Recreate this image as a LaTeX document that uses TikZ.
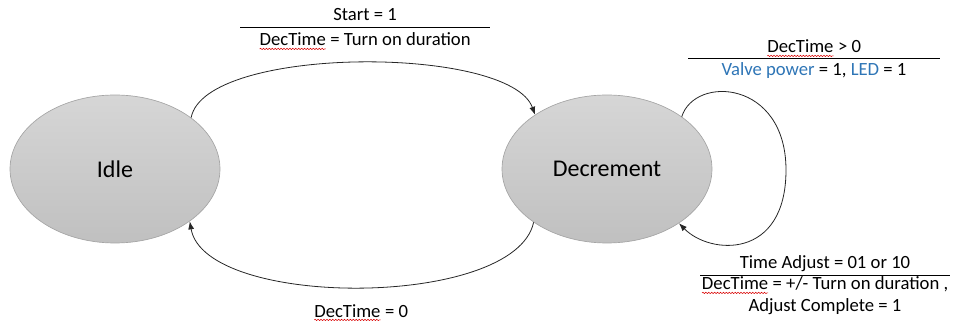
\documentclass[tikz,border=0pt]{standalone}
\usepackage{fontspec}
\setmainfont{Carlito}
\usetikzlibrary{arrows.meta,shapes.geometric,decorations.pathmorphing}

\definecolor{wordblue}{RGB}{46,117,182}
\definecolor{stateedge}{RGB}{165,165,165}

% red spell-check wave under a word
\newcommand\sq[1]{\tikz[baseline=(w.base)]{\node[anchor=base,inner sep=0pt,outer sep=0pt] (w) at (0,0) {#1};
  \draw[red!85!black, line width=0.4pt, decorate, decoration={snake,amplitude=0.5pt,segment length=2.2pt}]
    ([yshift=-2.2pt]w.base west) -- ([yshift=-2.2pt]w.base east);}}

\tikzset{
  state/.style={ellipse, draw=stateedge, line width=0.5pt,
    top color={rgb,255:red,214;green,214;blue,214},
    bottom color={rgb,255:red,192;green,192;blue,192},
    minimum width=157.5pt, minimum height=111pt, inner sep=0pt,
    font=\fontsize{18}{20}\selectfont},
  trans/.style={-{Latex[length=6pt,width=4.5pt]}, line width=0.6pt, black!85},
  lbl/.style={anchor=base, inner sep=0pt, font=\fontsize{14}{16}\selectfont}
}

\begin{document}
\begin{tikzpicture}[x=0.75pt,y=-0.75pt]
\useasboundingbox (0,0) rectangle (954,324);

% States
\node[state] (idle) at (115,169) {Idle};
\node[state] (dec) at (607,169) {Decrement};

% Transitions
\draw[trans] (idle.34) .. controls (205,45) and (510,45) .. (dec.143);
\draw[trans] (dec.216) .. controls (515,309) and (205,309) .. (idle.325);
\draw[trans] (dec.35) .. controls (695,75) and (786,80) .. (786,170)
  .. controls (786,260) and (710,255) .. (dec.323);

% Idle -> Decrement
\node[lbl] (startin) at (365,21) {Start = 1};
\draw[line width=0.6pt] (240,27) -- (490,27);
\node[lbl] (startout) at (365,46) {\sq{DecTime} = Turn on duration};

% Decrement -> Decrement (count down)
\node[lbl] (runin) at (814,53) {\sq{DecTime} > 0};
\draw[line width=0.6pt] (688,58) -- (940,58);
\node[lbl] (runout) at (814,76) {\textcolor{wordblue}{Valve power} = 1, \textcolor{wordblue}{LED} = 1};

% Decrement -> Decrement (adjust)
\node[lbl] (adjin) at (825,268) {Time Adjust = 01 or 10};
\draw[line width=0.6pt] (700,275) -- (950,275);
\node[lbl] (adjout) at (825,290) {\sq{DecTime} = +/- Turn on duration ,};
\node[lbl] (adjdone) at (825,311) {Adjust Complete = 1};

% Decrement -> Idle
\node[lbl] (endin) at (361,317) {\sq{DecTime} = 0};

\end{tikzpicture}
\end{document}
